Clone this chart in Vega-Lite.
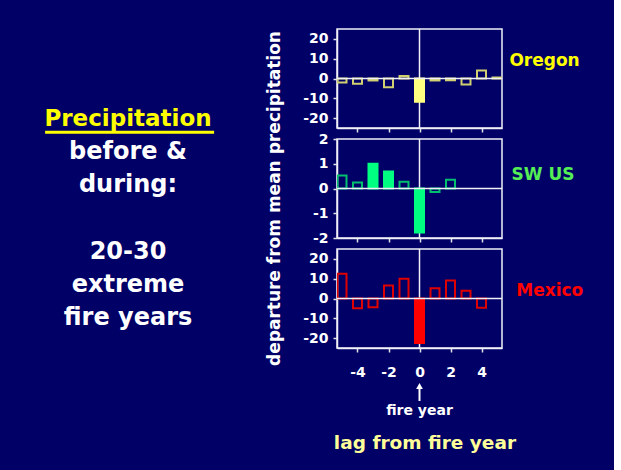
{
  "$schema": "https://vega.github.io/schema/vega-lite/v6.json",
  "background": "#000066",
  "padding": {"left": 5, "top": 27, "right": 30, "bottom": 17},
  "bounds": "flush",
  "spacing": 86,
  "config": {
    "view": {"stroke": "#f0f0f8", "strokeWidth": 1.5},
    "font": "DejaVu Sans",
    "axis": {
      "grid": false,
      "domainColor": "#f0f0f8",
      "domainWidth": 1.5,
      "tickColor": "#e0e0e8",
      "tickWidth": 1.5,
      "tickSize": 4,
      "labelColor": "white",
      "labelFont": "DejaVu Sans",
      "labelFontWeight": "bold",
      "labelFontSize": 14,
      "labelPadding": 5,
      "labelOverlap": false,
      "labelBound": false,
      "labelExpr": "'' + datum.value",
      "titleColor": "white",
      "titleFont": "DejaVu Sans",
      "titleFontWeight": "bold"
    }
  },
  "datasets": {
    "precip": [
      {"region": "Oregon", "lag": -5, "value": -2.0, "filled": false},
      {"region": "Oregon", "lag": -4, "value": -2.7, "filled": false},
      {"region": "Oregon", "lag": -3, "value": -1.0, "filled": false},
      {"region": "Oregon", "lag": -2, "value": -4.4, "filled": false},
      {"region": "Oregon", "lag": -1, "value": 1.2, "filled": false},
      {"region": "Oregon", "lag": 0, "value": -11.7, "filled": true},
      {"region": "Oregon", "lag": 1, "value": -1.0, "filled": false},
      {"region": "Oregon", "lag": 2, "value": -0.9, "filled": false},
      {"region": "Oregon", "lag": 3, "value": -3.0, "filled": false},
      {"region": "Oregon", "lag": 4, "value": 4.0, "filled": false},
      {"region": "Oregon", "lag": 5, "value": 0.5, "filled": false},
      {"region": "SW US", "lag": -5, "value": 0.53, "filled": false},
      {"region": "SW US", "lag": -4, "value": 0.24, "filled": false},
      {"region": "SW US", "lag": -3, "value": 1.0, "filled": true},
      {"region": "SW US", "lag": -2, "value": 0.69, "filled": true},
      {"region": "SW US", "lag": -1, "value": 0.27, "filled": false},
      {"region": "SW US", "lag": 0, "value": -1.78, "filled": true},
      {"region": "SW US", "lag": 1, "value": -0.14, "filled": false},
      {"region": "SW US", "lag": 2, "value": 0.35, "filled": false},
      {"region": "Mexico", "lag": -5, "value": 12.5, "filled": false},
      {"region": "Mexico", "lag": -4, "value": -4.9, "filled": false},
      {"region": "Mexico", "lag": -3, "value": -4.4, "filled": false},
      {"region": "Mexico", "lag": -2, "value": 6.6, "filled": false},
      {"region": "Mexico", "lag": -1, "value": 10.0, "filled": false},
      {"region": "Mexico", "lag": 0, "value": -22.5, "filled": true},
      {"region": "Mexico", "lag": 1, "value": 5.2, "filled": false},
      {"region": "Mexico", "lag": 2, "value": 9.1, "filled": false},
      {"region": "Mexico", "lag": 3, "value": 3.9, "filled": false},
      {"region": "Mexico", "lag": 4, "value": -4.7, "filled": false}
    ]
  },
  "hconcat": [
    {
      "width": 246,
      "height": 319,
      "view": {"stroke": null, "fill": "#000066"},
      "layer": [
        {
          "data": {"values": [{"text": "Precipitation"}]},
          "mark": {"type": "text", "font": "DejaVu Sans", "fontWeight": "bold", "fontSize": 23, "color": "#ffff00", "baseline": "middle", "align": "center"},
          "encoding": {
            "text": {"field": "text"},
            "x": {"datum": 0.5, "type": "quantitative", "scale": {"domain": [0, 1], "nice": false}, "axis": null},
            "y": {"datum": 0, "type": "quantitative", "scale": {"domain": [-2.71, 6.9], "reverse": true, "nice": false, "zero": false}, "axis": null}
          }
        },
        {
          "data": {"values": [{}]},
          "mark": {"type": "rule", "color": "#ffff00", "strokeWidth": 3},
          "encoding": {
            "x": {"datum": 0.163, "type": "quantitative", "scale": {"domain": [0, 1], "nice": false}, "axis": null},
            "x2": {"datum": 0.85},
            "y": {"datum": 0.4, "type": "quantitative", "scale": {"domain": [-2.71, 6.9], "reverse": true, "nice": false, "zero": false}, "axis": null}
          }
        },
        {
          "data": {"values": [
            {"line": 1, "text": "before &"},
            {"line": 2, "text": "during:"},
            {"line": 4, "text": "20-30"},
            {"line": 5, "text": "extreme"},
            {"line": 6, "text": "fire years"}
          ]},
          "mark": {"type": "text", "font": "DejaVu Sans", "fontWeight": "bold", "fontSize": 24, "color": "white", "baseline": "middle", "align": "center"},
          "encoding": {
            "text": {"field": "text"},
            "x": {"datum": 0.5, "type": "quantitative", "scale": {"domain": [0, 1], "nice": false}, "axis": null},
            "y": {"field": "line", "type": "quantitative", "scale": {"domain": [-2.71, 6.9], "reverse": true, "nice": false, "zero": false}, "axis": null}
          }
        }
      ]
    },
    {
      "bounds": "flush",
      "spacing": 11,
      "vconcat": [
        {
          "width": 165,
          "height": 99,
          "layer": [
            {
              "data": {"values": [{}]},
              "mark": {"type": "rule", "color": "#f0f0f8", "strokeWidth": 1.5},
              "encoding": {"x": {"datum": 0, "type": "quantitative", "scale": {"domain": [-5, 5], "nice": false, "zero": false}, "axis": {"values": [-4, -2, 0, 2, 4], "labels": false, "title": null}}}
            },
            {
              "data": {"name": "precip"},
              "transform": [{"filter": "datum.region === 'Oregon'"}],
              "mark": {"type": "bar", "width": 9, "strokeWidth": 2, "clip": true},
              "encoding": {
                "x": {"field": "lag", "type": "quantitative", "scale": {"domain": [-5, 5], "nice": false, "zero": false}, "axis": {"values": [-4, -2, 0, 2, 4], "labels": false, "title": null}},
                "y": {"field": "value", "type": "quantitative", "scale": {"domain": [-25, 25], "nice": false}, "axis": {"values": [-20, -10, 0, 10, 20], "title": null}},
                "fill": {"condition": {"test": "datum.filled", "value": "#ffff80"}, "value": "transparent"},
                "stroke": {"condition": {"test": "datum.filled", "value": "#ffff80"}, "value": "#d0d070"}
              }
            },
            {
              "data": {"values": [{}]},
              "mark": {"type": "rule", "color": "#f0f0f8", "strokeWidth": 1.5},
              "encoding": {"y": {"datum": 0, "type": "quantitative", "scale": {"domain": [-25, 25], "nice": false}, "axis": {"values": [-20, -10, 0, 10, 20], "title": null}}}
            },
            {
              "data": {"values": [{"label": "Oregon"}]},
              "mark": {"type": "text", "align": "left", "baseline": "middle", "font": "DejaVu Sans", "fontWeight": "bold", "fontSize": 17, "color": "#ffff00"},
              "encoding": {
                "text": {"field": "label"},
                "x": {"datum": 5.8, "type": "quantitative", "axis": {"values": [-4, -2, 0, 2, 4], "labels": false, "title": null}},
                "y": {"datum": 9, "type": "quantitative", "axis": {"values": [-20, -10, 0, 10, 20], "title": null}}
              }
            }
          ]
        },
        {
          "width": 165,
          "height": 99,
          "layer": [
            {
              "data": {"values": [{}]},
              "mark": {"type": "rule", "color": "#f0f0f8", "strokeWidth": 1.5},
              "encoding": {"x": {"datum": 0, "type": "quantitative", "scale": {"domain": [-5, 5], "nice": false, "zero": false}, "axis": {"values": [-4, -2, 0, 2, 4], "labels": false, "title": null}}}
            },
            {
              "data": {"name": "precip"},
              "transform": [{"filter": "datum.region === 'SW US'"}],
              "mark": {"type": "bar", "width": 9, "strokeWidth": 2, "clip": true},
              "encoding": {
                "x": {"field": "lag", "type": "quantitative", "scale": {"domain": [-5, 5], "nice": false, "zero": false}, "axis": {"values": [-4, -2, 0, 2, 4], "labels": false, "title": null}},
                "y": {"field": "value", "type": "quantitative", "scale": {"domain": [-2, 2], "nice": false}, "axis": {"values": [-2, -1, 0, 1, 2], "title": "departure from mean precipitation", "titleFontSize": 17, "titleX": -63, "titleY": 59, "titleBaseline": "middle"}},
                "fill": {"condition": {"test": "datum.filled", "value": "#00ff80"}, "value": "transparent"},
                "stroke": {"condition": {"test": "datum.filled", "value": "#00ff80"}, "value": "#00c070"}
              }
            },
            {
              "data": {"values": [{}]},
              "mark": {"type": "rule", "color": "#f0f0f8", "strokeWidth": 1.5},
              "encoding": {"y": {"datum": 0, "type": "quantitative", "scale": {"domain": [-2, 2], "nice": false}, "axis": {"values": [-2, -1, 0, 1, 2], "title": "departure from mean precipitation", "titleFontSize": 17, "titleX": -63, "titleY": 59, "titleBaseline": "middle"}}}
            },
            {
              "data": {"values": [{"label": "SW US"}]},
              "mark": {"type": "text", "align": "left", "baseline": "middle", "font": "DejaVu Sans", "fontWeight": "bold", "fontSize": 17, "color": "#55ee55"},
              "encoding": {
                "text": {"field": "label"},
                "x": {"datum": 5.94, "type": "quantitative", "axis": {"values": [-4, -2, 0, 2, 4], "labels": false, "title": null}},
                "y": {"datum": 0.55, "type": "quantitative", "axis": {"values": [-2, -1, 0, 1, 2], "title": "departure from mean precipitation", "titleFontSize": 17, "titleX": -63, "titleY": 59, "titleBaseline": "middle"}}
              }
            }
          ]
        },
        {
          "width": 165,
          "height": 99,
          "layer": [
            {
              "data": {"values": [{}]},
              "mark": {"type": "rule", "color": "#f0f0f8", "strokeWidth": 1.5},
              "encoding": {"x": {"datum": 0, "type": "quantitative", "scale": {"domain": [-5, 5], "nice": false, "zero": false}, "axis": {"values": [-4, -2, 0, 2, 4], "title": null, "labelPadding": 13}}}
            },
            {
              "data": {"name": "precip"},
              "transform": [{"filter": "datum.region === 'Mexico'"}],
              "mark": {"type": "bar", "width": 9, "strokeWidth": 2, "clip": true},
              "encoding": {
                "x": {"field": "lag", "type": "quantitative", "scale": {"domain": [-5, 5], "nice": false, "zero": false}, "axis": {"values": [-4, -2, 0, 2, 4], "title": null, "labelPadding": 13}},
                "y": {"field": "value", "type": "quantitative", "scale": {"domain": [-25, 25], "nice": false}, "axis": {"values": [-20, -10, 0, 10, 20], "title": null}},
                "fill": {"condition": {"test": "datum.filled", "value": "#ff0000"}, "value": "transparent"},
                "stroke": {"condition": {"test": "datum.filled", "value": "#ff0000"}, "value": "#e00000"}
              }
            },
            {
              "data": {"values": [{}]},
              "mark": {"type": "rule", "color": "#f0f0f8", "strokeWidth": 1.5},
              "encoding": {"y": {"datum": 0, "type": "quantitative", "scale": {"domain": [-25, 25], "nice": false}, "axis": {"values": [-20, -10, 0, 10, 20], "title": null}}}
            },
            {
              "data": {"values": [{"label": "Mexico"}]},
              "mark": {"type": "text", "align": "left", "baseline": "middle", "font": "DejaVu Sans", "fontWeight": "bold", "fontSize": 17, "color": "#ff0000"},
              "encoding": {
                "text": {"field": "label"},
                "x": {"datum": 6.24, "type": "quantitative", "axis": {"values": [-4, -2, 0, 2, 4], "title": null, "labelPadding": 13}},
                "y": {"datum": 4, "type": "quantitative", "axis": {"values": [-20, -10, 0, 10, 20], "title": null}}
              }
            }
          ]
        },
        {
          "width": 165,
          "height": 95,
          "view": {"stroke": null},
          "layer": [
            {
              "data": {"values": [{}]},
              "mark": {"type": "rule", "color": "white", "strokeWidth": 2},
              "encoding": {
                "x": {"datum": 0, "type": "quantitative", "scale": {"domain": [-5, 5], "nice": false, "zero": false}, "axis": null},
                "y": {"datum": 2.9, "type": "quantitative", "scale": {"domain": [0, 9.5], "reverse": true, "nice": false}, "axis": null},
                "y2": {"datum": 4.2}
              }
            },
            {
              "data": {"values": [{}]},
              "mark": {"type": "point", "shape": "triangle-up", "filled": true, "color": "white", "size": 45, "opacity": 1},
              "encoding": {
                "x": {"datum": 0, "type": "quantitative", "axis": null},
                "y": {"datum": 2.7, "type": "quantitative", "axis": null}
              }
            },
            {
              "data": {"values": [{"text": "fire year"}]},
              "mark": {"type": "text", "align": "center", "baseline": "middle", "font": "DejaVu Sans", "fontWeight": "bold", "fontSize": 14, "color": "white"},
              "encoding": {
                "text": {"field": "text"},
                "x": {"datum": 0, "type": "quantitative", "axis": null},
                "y": {"datum": 5.2, "type": "quantitative", "axis": null}
              }
            },
            {
              "data": {"values": [{"text": "lag from fire year"}]},
              "mark": {"type": "text", "align": "center", "baseline": "middle", "font": "DejaVu Sans", "fontWeight": "bold", "fontSize": 18.5, "color": "#ffff99"},
              "encoding": {
                "text": {"field": "text"},
                "x": {"datum": 0.33, "type": "quantitative", "axis": null},
                "y": {"datum": 8.4, "type": "quantitative", "axis": null}
              }
            }
          ]
        }
      ]
    }
  ]
}
